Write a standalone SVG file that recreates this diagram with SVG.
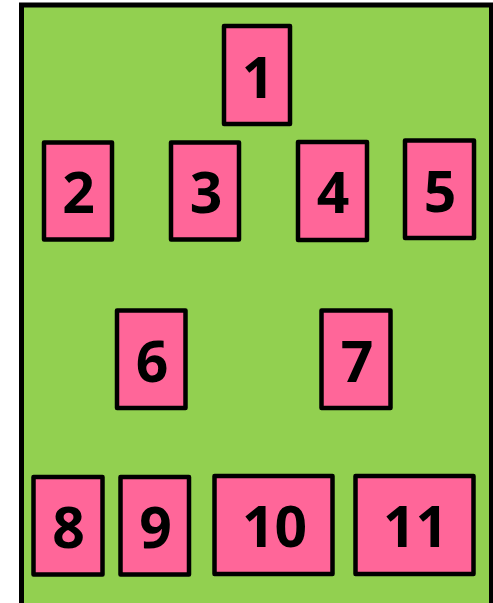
<svg xmlns="http://www.w3.org/2000/svg" width="493" height="603" viewBox="0 0 493 603">
<style>
.bg{fill:#92D050;stroke:#000;stroke-width:5}
.n rect{fill:#FF6699;stroke:#000;stroke-width:4.5;stroke-linejoin:round}
.n text{font-family:"Open Sans","Liberation Sans",sans-serif;font-weight:bold;font-size:57px;fill:#000;text-anchor:middle}
</style>
<rect class="bg" x="21.5" y="5" width="470" height="610"/>
<g id="connectors"/>
<g id="n1" class="n"><rect x="224" y="26" width="66" height="98"/><text x="258" y="97.7">1</text></g>
<g id="n2" class="n"><rect x="44" y="142.5" width="68" height="97"/><text x="78.5" y="213.3">2</text></g>
<g id="n3" class="n"><rect x="171" y="142.5" width="68" height="97"/><text x="206" y="213.3">3</text></g>
<g id="n4" class="n"><rect x="298" y="142" width="69" height="98"/><text x="333" y="213.3">4</text></g>
<g id="n5" class="n"><rect x="405" y="140.5" width="69" height="97.5"/><text x="440" y="211.7">5</text></g>
<g id="n6" class="n"><rect x="117" y="310.5" width="68.5" height="97.5"/><text x="152" y="381.7">6</text></g>
<g id="n7" class="n"><rect x="321.5" y="310.5" width="69" height="97.5"/><text x="357" y="381.7">7</text></g>
<g id="n8" class="n"><rect x="33.5" y="477" width="69" height="97.5"/><text x="68.5" y="548.3">8</text></g>
<g id="n9" class="n"><rect x="120.5" y="477" width="68.5" height="97.5"/><text x="155.5" y="548.3">9</text></g>
<g id="n10" class="n"><rect x="214.5" y="476" width="118" height="98"/><text x="274.5" y="546.7">10</text></g>
<g id="n11" class="n"><rect x="355.5" y="476" width="118" height="98"/><text x="415.5" y="546.7">11</text></g>
</svg>
